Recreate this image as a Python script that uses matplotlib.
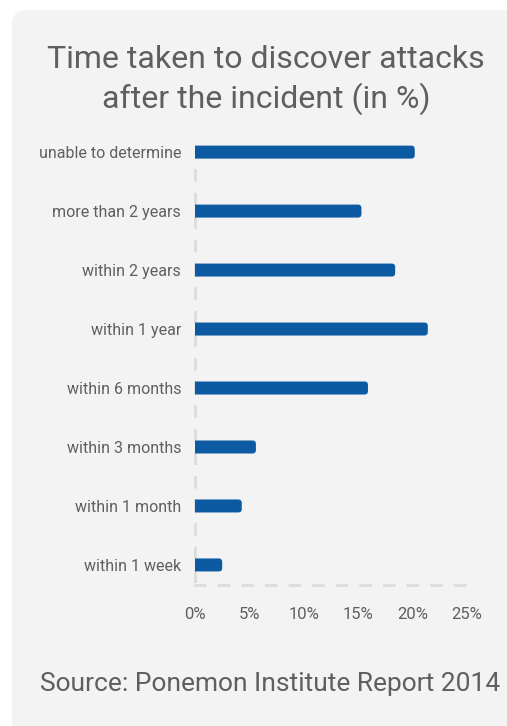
import matplotlib
matplotlib.use("Agg")
import matplotlib.pyplot as plt
from matplotlib.patches import FancyBboxPatch

plt.rcParams["font.family"] = ["Roboto", "DejaVu Sans"]
plt.rcParams["lines.scale_dashes"] = False

# data (in %)
categories = [
    "unable to determine",
    "more than 2 years",
    "within 2 years",
    "within 1 year",
    "within 6 months",
    "within 3 months",
    "within 1 month",
    "within 1 week",
]
values = [20.2, 15.3, 18.4, 21.4, 15.9, 5.6, 4.3, 2.5]
x_ticks = [0, 5, 10, 15, 20, 25]
x_tick_labels = ["0%", "5%", "10%", "15%", "20%", "25%"]

BAR_COLOR = "#0b5aa2"
TEXT_COLOR = "#5f5f5f"
GRID_COLOR = "#dcdcdc"
PANEL_COLOR = "#f3f3f3"

W, H = 507, 726
fig = plt.figure(figsize=(W / 100, H / 100), dpi=100)
fig.patch.set_facecolor("white")

# grey rounded card behind everything
card = FancyBboxPatch((12 / W, -0.05), 1.2, 1.05 - 10 / H,
                      boxstyle="round,pad=0,rounding_size=0.03",
                      transform=fig.transFigure, facecolor=PANEL_COLOR,
                      edgecolor="none", zorder=-5, mutation_aspect=W / H)
fig.patches.append(card)

# axes placement in pixels
left, right = 195, 472.4
bottom, top = 585, 135
ax = fig.add_axes([left / W, 1 - bottom / H, (right - left) / W, (bottom - top) / H])
ax.set_facecolor("none")
ax.set_zorder(2)

xmax = 25.5
px_per_x = (right - left) / xmax
n = len(categories)
ylo, yhi = -0.29, n - 1 + 0.34
px_per_y = (bottom - top) / (yhi - ylo)
ax.set_xlim(0, xmax)
ax.set_ylim(yhi, ylo)

# bars: rounded on the right, the left end is cut square by the axes clip
bar_h = 13 / px_per_y
r = 3.5 / px_per_x
for i, v in enumerate(values):
    patch = FancyBboxPatch((-1, i - bar_h / 2), v + 1, bar_h,
                           boxstyle=f"round,pad=0,rounding_size={r}",
                           mutation_aspect=px_per_x / px_per_y,
                           facecolor=BAR_COLOR, edgecolor="none", zorder=3)
    ax.add_patch(patch)

for side in ["top", "right"]:
    ax.spines[side].set_visible(False)
for side in ["left", "bottom"]:
    sp = ax.spines[side]
    sp.set_color(GRID_COLOR)
    sp.set_linewidth(2)
    sp.set_linestyle((0, (7, 10)))
    sp.set_zorder(1)
ax.spines["left"].set_bounds(0.3, yhi)

ax.set_yticks(range(n))
ax.set_yticklabels(categories)
ax.set_xticks(x_ticks)
ax.set_xticklabels(x_tick_labels)
ax.tick_params(axis="y", length=0, pad=10, labelsize=11.5, labelcolor=TEXT_COLOR)
ax.tick_params(axis="x", length=0, pad=16, labelsize=12, labelcolor=TEXT_COLOR)

fig.text(266 / W, 1 - 80 / H, "Time taken to discover attacks\nafter the incident (in %)",
         ha="center", va="center", fontsize=23, color=TEXT_COLOR, linespacing=1.3)
fig.text(270 / W, 1 - 684 / H, "Source: Ponemon Institute Report 2014",
         ha="center", va="center", fontsize=19, color=TEXT_COLOR)

fig.savefig("out.png", dpi=100, facecolor=fig.get_facecolor())
